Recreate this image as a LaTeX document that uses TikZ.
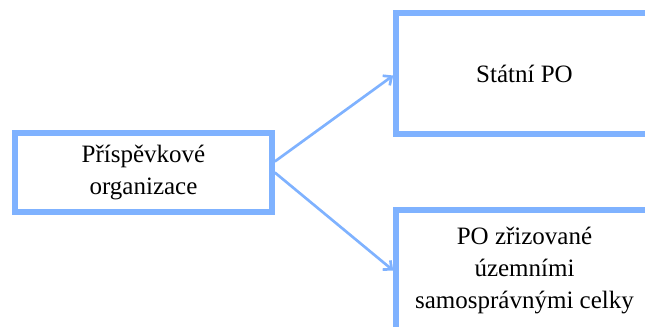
\documentclass[tikz,border=0pt]{standalone}
\usepackage{fontspec}
\setmainfont{Liberation Serif}
\usetikzlibrary{arrows.meta}
\definecolor{boxblue}{RGB}{127,178,255}

\begin{document}
\begin{tikzpicture}[x=0.75pt, y=-0.75pt,
  >={Straight Barb[length=5pt,width=9pt]},
  box/.style={draw=boxblue, line width=4.2pt, minimum width=192.75pt, align=center, font=\fontsize{18.75}{24}\selectfont},
  link/.style={draw=boxblue, line width=2pt, ->}]
  \useasboundingbox (0,0) rectangle (645,327);
  %coordinates
  \node[box, minimum height=59.25pt](org) at (143.5,172.5) {Příspěvkové\\organizace};
  \node[box, minimum height=90.75pt](stat) at (524.5,73.5) {Státní PO};
  \node[box, minimum height=90.75pt](usc) at (524.5,270.5) {PO zřizované\\územními\\samosprávnými celky};
  % Edges
  \draw[link] ([yshift=8.25pt]org.east) -- ([yshift=-1.5pt]stat.west);
  \draw[link] (org.east) -- (usc.west);
\end{tikzpicture}
\end{document}
